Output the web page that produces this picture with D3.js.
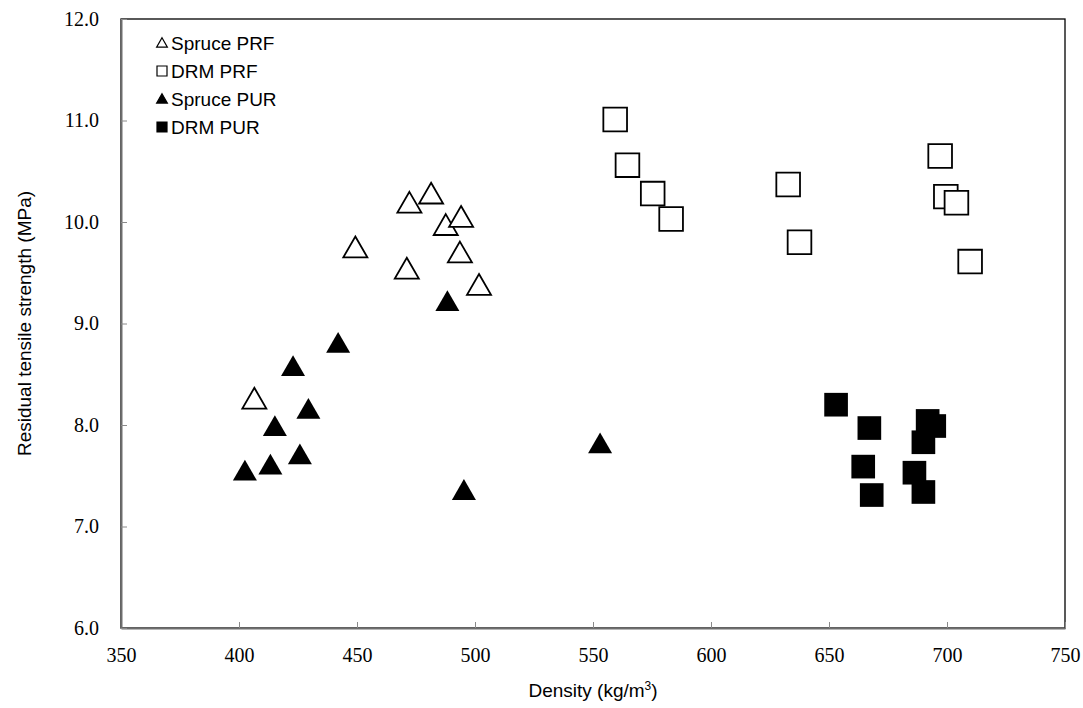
<!DOCTYPE html>
<html>
<head>
<meta charset="utf-8">
<script src="https://cdn.jsdelivr.net/npm/d3@7"></script>
<style>
  body { margin: 0; background: #fff; }
  svg { display: block; }
</style>
</head>
<body>
<div id="chart"></div>
<script>
// series values: [density, strength]
var sprucePRF = [[406.5, 8.26], [449.3, 9.75], [471.1, 9.54], [472.2, 10.19], [481.4, 10.28],
  [487.6, 9.97], [494.1, 10.05], [493.6, 9.70], [501.7, 9.38]]
var drmPRF = [[559.4, 11.01], [564.6, 10.56], [575.3, 10.28], [583.1, 10.03], [632.7, 10.37],
  [637.5, 9.80], [697.1, 10.65], [699.5, 10.25], [704.0, 10.19], [709.8, 9.61]]
var sprucePUR = [[402.5, 7.55], [413.3, 7.61], [415.2, 7.99], [422.9, 8.58], [425.8, 7.71],
  [429.4, 8.16], [442.0, 8.81], [488.3, 9.22], [495.3, 7.36], [553.0, 7.82]]
var drmPUR = [[653.0, 8.20], [667.1, 7.97], [664.5, 7.59], [668.1, 7.31], [686.2, 7.53],
  [690.0, 7.83], [691.8, 8.04], [694.6, 7.99], [690.0, 7.34]]

var seriesNames = ['Spruce PRF', 'DRM PRF', 'Spruce PUR', 'DRM PUR']
var xTicks = [350, 400, 450, 500, 550, 600, 650, 700, 750]
var yTicks = [6, 7, 8, 9, 10, 11, 12]

var width = 1083
var height = 708
var margin = {left: 121, top: 19, right: 18, bottom: 80}
var serif = '"Liberation Serif", "Times New Roman", serif'
var sans = '"Liberation Sans", Arial, sans-serif'

var svg = d3.select('#chart').append('svg')
  .attr('width', width)
  .attr('height', height)

var x = d3.scaleLinear().domain([350, 750]).range([margin.left, width - margin.right])
var y = d3.scaleLinear().domain([6, 12]).range([height - margin.bottom, margin.top])

// frame
svg.append('rect')
  .attr('x', x(350)).attr('y', y(12))
  .attr('width', x(750) - x(350)).attr('height', y(6) - y(12))
  .attr('fill', 'none').attr('stroke', '#000').attr('stroke-width', 1.3)

// axes, ticks inside
var xAxis = svg.append('g')
  .attr('transform', 'translate(0,' + y(6) + ')')
  .call(d3.axisBottom(x).tickValues(xTicks).tickSizeInner(-6).tickSizeOuter(0).tickPadding(20).tickFormat(d3.format('d')))
var yAxis = svg.append('g')
  .attr('transform', 'translate(' + x(350) + ',0)')
  .call(d3.axisLeft(y).tickValues(yTicks).tickSizeInner(-6).tickSizeOuter(0).tickPadding(22).tickFormat(d3.format('.1f')))

styleAxis(xAxis)
styleAxis(yAxis)

function styleAxis(g) {
  g.attr('font-family', serif).attr('font-size', 20)
  g.select('.domain').attr('stroke', '#6e6e6e').attr('stroke-width', 2)
  g.selectAll('.tick line').attr('stroke', '#8a8a8a')
  g.selectAll('.tick text')
    .attr('fill', '#000')
    .attr('font-family', serif)
    .attr('font-size', 20)
}

// axis titles
svg.append('text')
  .attr('x', (x(350) + x(750)) / 2).attr('y', 697)
  .attr('text-anchor', 'middle')
  .attr('font-family', sans)
  .attr('font-size', 19)
  .html('Density (kg/m<tspan dy="-7" font-size="12">3</tspan><tspan dy="7">)</tspan>')

svg.append('text')
  .attr('transform', 'translate(31,' + (y(6) + y(12)) / 2 + ') rotate(-90)')
  .attr('text-anchor', 'middle')
  .attr('font-family', sans)
  .attr('font-size', 19)
  .text('Residual tensile strength (MPa)')

var tri = d3.symbol().type(d3.symbolTriangle).size(250)
var sq = d3.symbol().type(d3.symbolSquare).size(560)

function drawPoints(data, path, filled, dy) {
  svg.append('g').selectAll('path')
    .data(data)
    .join('path')
    .attr('d', path)
    .attr('transform', function(d) { return 'translate(' + x(d[0]) + ',' + (y(d[1]) + dy) + ')' })
    .attr('fill', filled ? '#000' : '#fff')
    .attr('stroke', '#000')
    .attr('stroke-width', filled ? 0 : 1.8)
}

drawPoints(sprucePRF, tri(), false, 3)
drawPoints(drmPRF, sq(), false, 0)
drawPoints(sprucePUR, tri(), true, 3)
drawPoints(drmPUR, sq(), true, 0)

// legend
var legend = svg.append('g').attr('transform', 'translate(162,43)')
var legendShapes = [
  {path: d3.symbol().type(d3.symbolTriangle).size(50)(), filled: false, dy: 1},
  {path: d3.symbol().type(d3.symbolSquare).size(100)(), filled: false, dy: 0},
  {path: d3.symbol().type(d3.symbolTriangle).size(50)(), filled: true, dy: 1},
  {path: d3.symbol().type(d3.symbolSquare).size(100)(), filled: true, dy: 0}
]
seriesNames.forEach(function(name, i) {
  var row = legend.append('g').attr('transform', 'translate(0,' + i * 28 + ')')
  row.append('path')
    .attr('d', legendShapes[i].path)
    .attr('transform', 'translate(0,' + legendShapes[i].dy + ')')
    .attr('fill', legendShapes[i].filled ? '#000' : '#fff')
    .attr('stroke', '#000')
    .attr('stroke-width', 1.2)
  row.append('text')
    .attr('x', 9).attr('y', 7)
    .attr('font-family', sans)
    .attr('font-size', 19)
    .text(name)
})
</script>
</body>
</html>
